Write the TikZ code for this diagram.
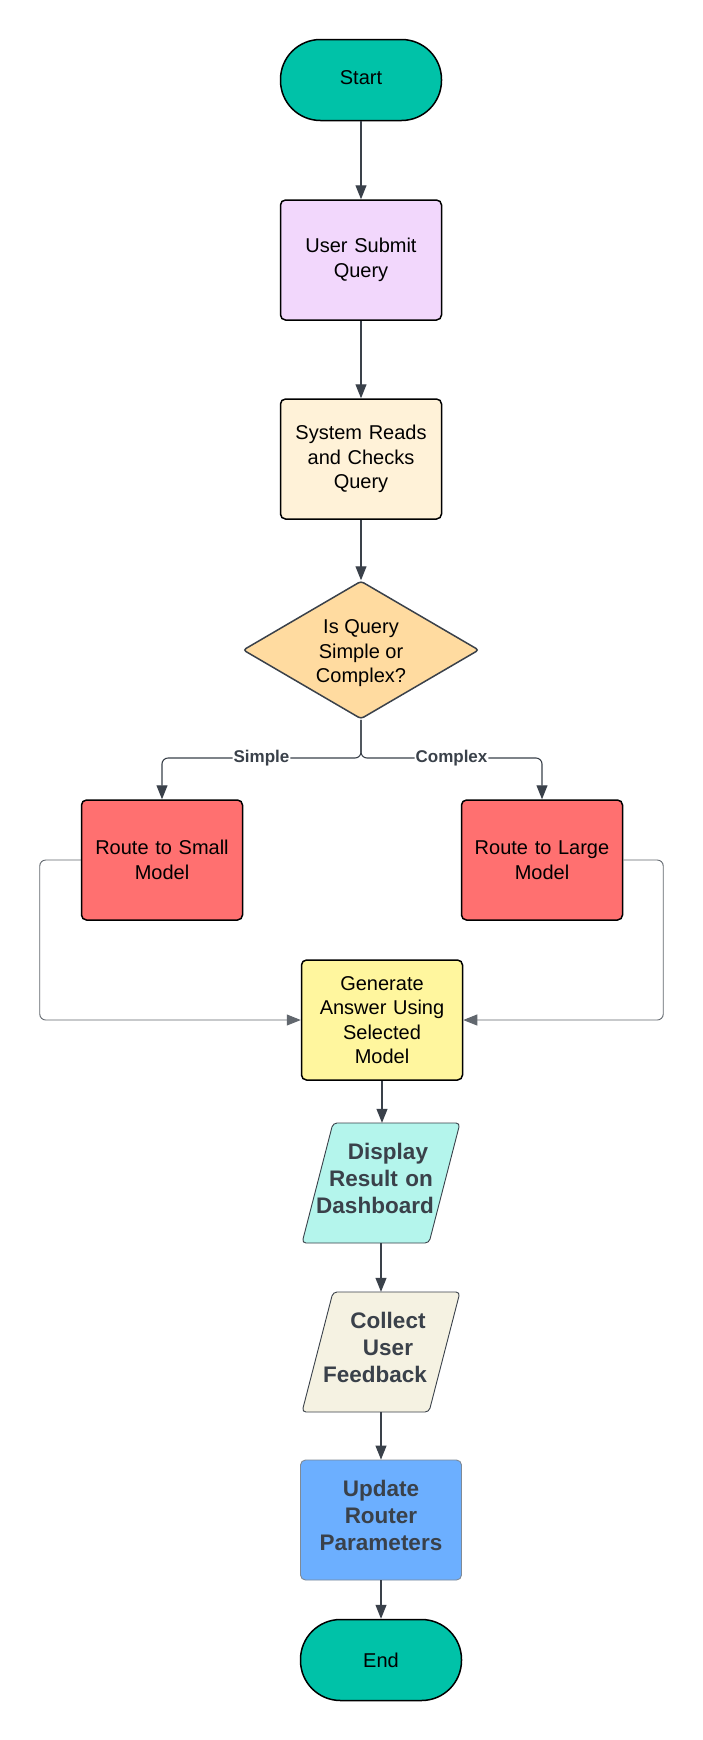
\documentclass[tikz,border=0pt]{standalone}
\usepackage{fontspec}
\setmainfont{Liberation Sans}
\usetikzlibrary{arrows.meta,shapes.geometric,calc}
\definecolor{teal}{HTML}{00C2A8}
\definecolor{lav}{HTML}{F2D7FC}
\definecolor{cream}{HTML}{FFF2D8}
\definecolor{orng}{HTML}{FFDBA0}
\definecolor{redbox}{HTML}{FF7070}
\definecolor{yel}{HTML}{FFF69E}
\definecolor{cyanbox}{HTML}{B4F5EC}
\definecolor{beige}{HTML}{F5F2E2}
\definecolor{bluebox}{HTML}{6CAFFF}
\definecolor{ink}{HTML}{3A414A}
\definecolor{grayline}{HTML}{7F8A96}
\newcommand{\lowpad}{\rule[-10pt]{0pt}{10pt}}
\tikzset{
  base/.style={align=center, text width=150pt, font=\fontsize{20}{24.5}\selectfont, inner sep=0pt},
  term/.style={base, draw=black, line width=1.5pt, rounded corners=40pt, minimum width=161pt, minimum height=81pt},
  proc/.style={base, draw=black, line width=1.5pt, rounded corners=5pt, minimum width=161pt, minimum height=120pt},
  dec/.style={diamond, aspect=1.7, align=center, font=\fontsize{20}{24.5}\selectfont, draw=ink, line width=1.5pt, rounded corners=3pt, minimum width=236pt, minimum height=138pt, inner sep=0pt, fill=orng},
  bold/.style={align=center, text width=150pt, font=\fontsize{22.5}{27}\bfseries\selectfont, text=ink, inner sep=0pt},
  paratext/.style={bold, minimum width=127pt, minimum height=120pt},
  parashape/.style={draw=ink, line width=0.9pt, rounded corners=4pt},
  conn/.style={draw=ink, line width=1.1pt, -{Triangle[length=14pt,width=11pt]}},
  loop/.style={draw=ink!80, line width=0.9pt, rounded corners=6pt, -{Triangle[length=14pt,width=11pt]}},
  lbl/.style={fill=white, text=ink, font=\fontsize{17}{20}\bfseries\selectfont, inner sep=1pt},
}
\begin{document}
\begin{tikzpicture}[x=1pt,y=-1pt]
\useasboundingbox (0,0) rectangle (702,1740);
\fill[white] (0,0) rectangle (702,1740);

\node[term, fill=teal] (start) at (361,80) {Start\rule[-5pt]{0pt}{0pt}};
\node[proc, fill=lav] (submit) at (361,260) {User Submit\\Query};
\node[proc, fill=cream] (reads) at (361,459) {System Reads\\and Checks\\Query};
\node[dec] (decide) at (361,650) {\rule{0pt}{21pt}Is Query\\Simple or\\Complex?};
\node[proc, fill=redbox] (small) at (162,860) {Route to Small\\Model};
\node[proc, fill=redbox] (large) at (542,860) {Route to Large\\Model};
\node[proc, fill=yel] (gen) at (382,1020) {Generate\\Answer Using\\Selected\\Model};

\coordinate (dispc) at (381,1183);
\draw[parashape, fill=cyanbox] ($(dispc)+(-48,-60)$) -- ++(127,0) -- ++(-31,120) -- ++(-127,0) -- cycle;
\node[paratext] (disp) at (dispc) {\hspace*{14pt}Display\\Result on\hspace*{4pt}\\Dashboard\hspace*{12pt}\lowpad};

\coordinate (collc) at (381,1352);
\draw[parashape, fill=beige] ($(collc)+(-48,-60)$) -- ++(127,0) -- ++(-31,120) -- ++(-127,0) -- cycle;
\node[paratext] (coll) at (collc) {\hspace*{14pt}Collect\\\hspace*{14pt}User\\Feedback\hspace*{12pt}\lowpad};

\node[bold, draw=grayline, line width=0.9pt, rounded corners=5pt, fill=bluebox, minimum width=161pt, minimum height=120pt, text width=155pt] (upd) at (381,1520) {Update\\Router\\Parameters\lowpad};
\node[term, fill=teal] (fin) at (381,1660) {End};

\draw[conn] (start) -- (submit);
\draw[conn] (submit) -- (reads);
\draw[conn] (reads) -- (decide);
\coordinate (split) at (361,758);
\draw[conn, rounded corners=6pt] (decide.south) -- (split) -| node[lbl, pos=0.25] {Simple} (small.north);
\draw[conn, rounded corners=6pt] (decide.south) -- (split) -| node[lbl, pos=0.25] {Complex} (large.north);
\draw[loop] (small.west) -- ++(-41,0) |- (gen.west);
\draw[loop] (large.east) -- ++(40,0) |- (gen.east);
\draw[conn] (gen.south) -- (gen.south |- disp.north);
\draw[conn] (disp.south) -- (coll.north);
\draw[conn] (coll.south) -- (upd.north);
\draw[conn] (upd) -- (fin);
\end{tikzpicture}
\end{document}
